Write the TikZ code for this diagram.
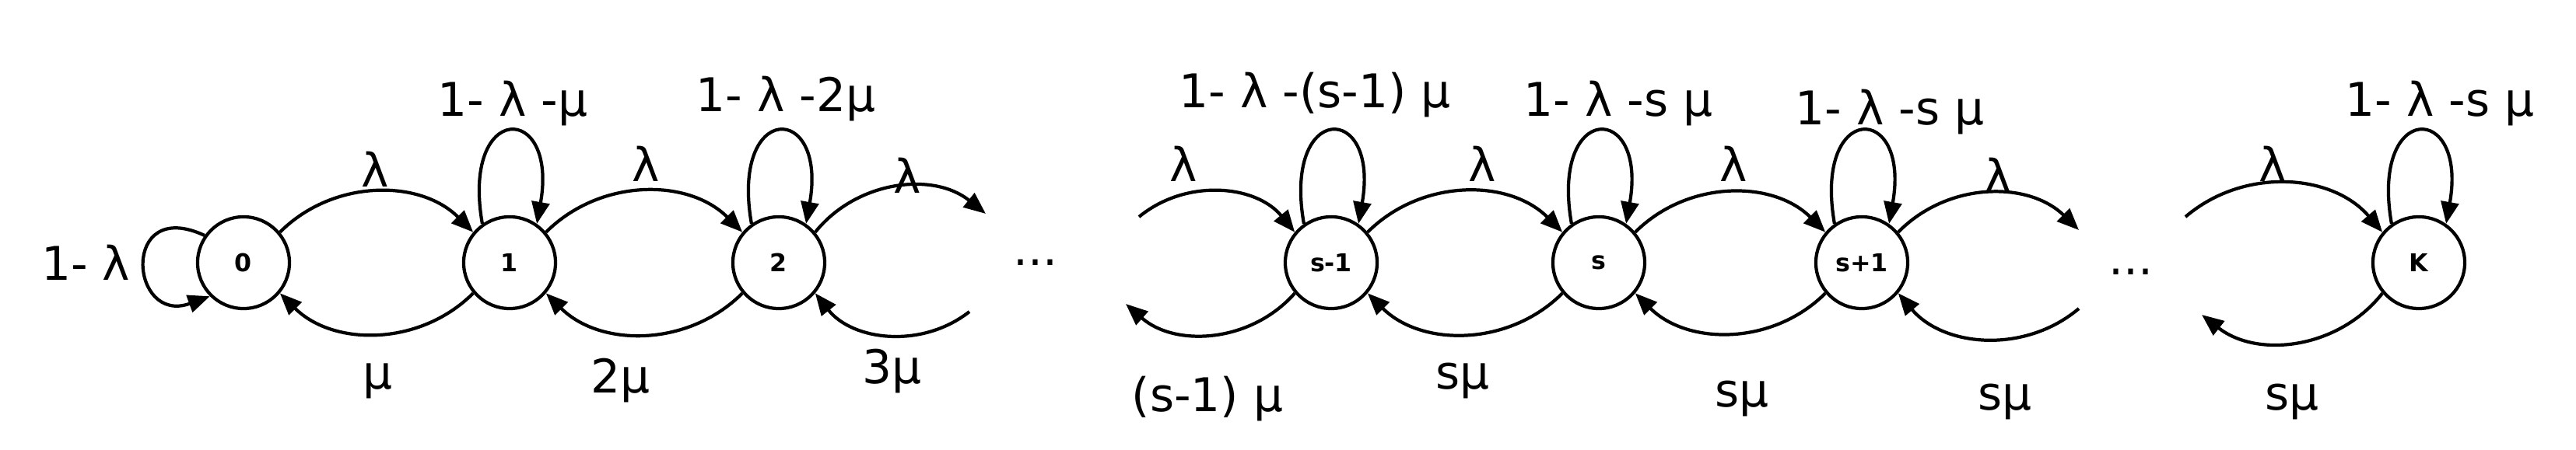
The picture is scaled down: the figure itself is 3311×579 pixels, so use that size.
\documentclass[tikz,border=0pt]{standalone}
\usepackage{fontspec}
\setmainfont{DejaVu Sans}
\usetikzlibrary{arrows.meta}
\begin{document}
\begin{tikzpicture}[x=0.01cm,y=-0.01cm,
  st/.style={circle,draw,line width=1.2pt,minimum size=1.18cm,inner sep=0pt,font=\bfseries\fontsize{9}{10}\selectfont},
  tr/.style={line width=1.2pt,-{Triangle[length=8pt,width=6.5pt]}},
  lb/.style={font=\fontsize{17}{19}\selectfont,inner sep=0pt}]
\useasboundingbox (0,0) rectangle (3311,579);
\node[st] (n0) at (313,338) {0};
\node[st] (n1) at (655,338) {1};
\node[st] (n2) at (1001,338) {2};
\node[lb] (d1) at (1331,338) {...};
\node[st] (m1) at (1711,338) {s-1};
\node[st] (s) at (2055,338) {s};
\node[st] (p1) at (2393,338) {s+1};
\node[lb] (d2) at (2739,350) {...};
\node[st] (K) at (3109,338) {K};
\coordinate (a2) at (1267,275);
\coordinate (b2) at (1246,401);
\coordinate (am) at (1464,279);
\coordinate (bm) at (1447,391);
\coordinate (ap) at (2672,296);
\coordinate (bp) at (2672,397);
\coordinate (aK) at (2809,279);
\coordinate (bK) at (2830,405);
\foreach \u/\v in {n0/n1,n1/n2,m1/s,s/p1}{
  \draw[tr] (\u.40) to[bend left=45] (\v.140);
  \draw[tr] (\v.220) to[bend left=45] (\u.320);}
\draw[tr] (n2.40) to[bend left=45] (a2);
\draw[tr] (b2) to[bend left=45] (n2.320);
\draw[tr] (am) to[bend left=45] (m1.140);
\draw[tr] (m1.220) to[bend left=45] (bm);
\draw[tr] (p1.40) to[bend left=45] (ap);
\draw[tr] (bp) to[bend left=45] (p1.320);
\draw[tr] (aK) to[bend left=45] (K.140);
\draw[tr] (K.220) to[bend left=45] (bK);
\foreach \n in {n1,n2,m1,s,p1,K}{
  \draw[tr] (\n.125) .. controls +(-100:160) and +(-80:160) .. (\n.55);}
\draw[tr] (n0.145) .. controls +(-155:120) and +(-200:110) .. (n0.225);
\node[lb] (l0) at (110,338) {1- λ};
\node[lb] (l01) at (482,218) {λ};
\node[lb] (l1) at (659,133) {1- λ -μ};
\node[lb] (l12) at (830,211) {λ};
\node[lb] (l2) at (1010,127) {1- λ -2μ};
\node[lb] (l2a) at (1166,226) {λ};
\node[lb] (u01) at (486,490) {μ};
\node[lb] (u12) at (798,490) {2μ};
\node[lb] (u2a) at (1147,478) {3μ};
\node[lb] (lam) at (1521,211) {λ};
\node[lb] (lm) at (1690,122) {1- λ -(s-1) μ};
\node[lb] (lms) at (1905,211) {λ};
\node[lb] (ls) at (2080,133) {1- λ -s μ};
\node[lb] (lsp) at (2228,211) {λ};
\node[lb] (lp) at (2429,144) {1- λ -s μ};
\node[lb] (lpa) at (2568,226) {λ};
\node[lb] (lK) at (3136,133) {1- λ -s μ};
\node[lb] (laK) at (2921,211) {λ};
\node[lb] (ubm) at (1552,513) {(s-1) μ};
\node[lb] (ums) at (1880,490) {sμ};
\node[lb] (usp) at (2239,513) {sμ};
\node[lb] (upa) at (2577,517) {sμ};
\node[lb] (uaK) at (2946,517) {sμ};
\end{tikzpicture}
\end{document}
